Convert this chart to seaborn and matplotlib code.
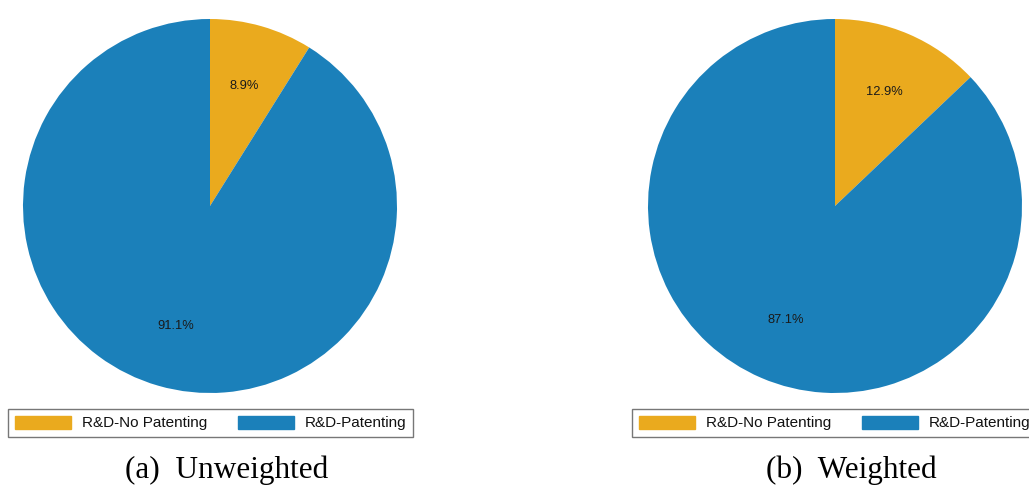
import matplotlib
matplotlib.use("Agg")
import matplotlib.pyplot as plt
import seaborn as sns
from matplotlib.patches import Patch

sns.set_style("white")
plt.rcParams['font.family'] = ['Liberation Sans', 'DejaVu Sans']

categories = ["R&D-No Patenting", "R&D-Patenting"]
unweighted = [8.9, 91.1]
weighted = [12.9, 87.1]
captions = ["(a)  Unweighted", "(b)  Weighted"]
colors = ["#EAAA1E", "#1B80BA"]

W, H = 1029, 487
fig = plt.figure(figsize=(W / 100, H / 100), dpi=100)

def px_axes(cx, cy, r):
    return fig.add_axes([(cx - r) / W, (H - cy - r) / H, 2 * r / W, 2 * r / H])

panels = [
    (unweighted, 210, 206, 210.5, 423, 227),
    (weighted, 835, 206, 834.5, 423, 851),
]
r = 187
for (vals, cx, cy, lx, ly, capx), cap in zip(panels, captions):
    ax = px_axes(cx, cy, r)
    ax.pie(vals, colors=colors, startangle=90, counterclock=False,
           autopct="%.1f%%", pctdistance=0.665, radius=1.0,
           wedgeprops=dict(linewidth=0),
           textprops=dict(fontsize=9.3, color="#1a1a1a"))
    ax.set_xlim(-1, 1)
    ax.set_ylim(-1, 1)
    ax.set_aspect("equal")
    ax.axis("off")
    handles = [Patch(facecolor=c, edgecolor=c) for c in colors]
    leg = fig.legend(handles, categories, loc="center",
                     bbox_to_anchor=(lx / W, 1 - ly / H), ncol=2,
                     fontsize=11, handlelength=3.7, handleheight=0.95,
                     handletextpad=0.7, columnspacing=2.0,
                     borderpad=0.45, fancybox=False, frameon=True)
    leg.get_frame().set_edgecolor("#555555")
    leg.get_frame().set_linewidth(1.0)
    for t in leg.get_texts():
        t.set_color("#111111")
    fig.text(capx / W, 1 - 470 / H, cap, ha="center", va="center",
             fontsize=22.5, color="black",
             family=["Liberation Serif", "DejaVu Serif"])

fig.savefig("out.png", dpi=100, facecolor="white")
